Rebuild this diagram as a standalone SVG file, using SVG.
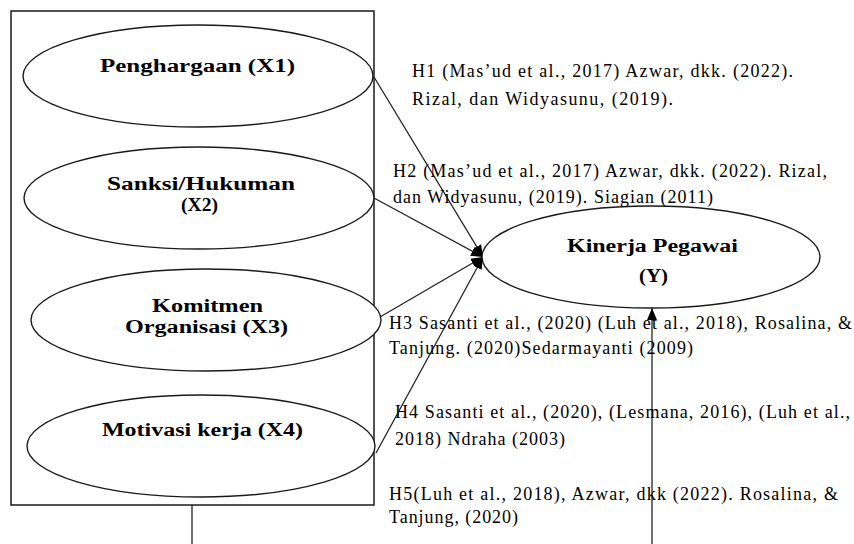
<svg xmlns="http://www.w3.org/2000/svg" width="854" height="544" viewBox="0 0 854 544">
<style>
.node ellipse{fill:#fff;stroke:#1a1a1a;stroke-width:1.4}
.lbl{font-family:"Liberation Serif","Times New Roman",serif;font-weight:bold;font-size:18px;fill:#000}
.hyp{font-family:"Liberation Serif","Times New Roman",serif;font-size:18px;fill:#000}
.conn line{stroke:#222;stroke-width:1.3}
</style>
<defs>
<marker id="ah" viewBox="0 0 12 10" refX="12" refY="5" markerWidth="12" markerHeight="10" markerUnits="userSpaceOnUse" orient="auto">
<path d="M0,0 L12,5 L0,10 z" fill="#000"/>
</marker>
</defs>
<rect width="854" height="544" fill="#fff"/>
<rect id="frame" x="11" y="11" width="363" height="494" fill="none" stroke="#1a1a1a" stroke-width="1.5"/>
<g class="conn" id="connectors">
<line x1="374" y1="77" x2="483" y2="257" marker-end="url(#ah)"/>
<line x1="374" y1="198" x2="483" y2="257" marker-end="url(#ah)"/>
<line x1="380" y1="317" x2="483" y2="257" marker-end="url(#ah)"/>
<line x1="376" y1="453" x2="483" y2="257" marker-end="url(#ah)"/>
<line x1="192" y1="505" x2="192" y2="544"/>
<line x1="652" y1="544" x2="652" y2="308" marker-end="url(#ah)"/>
</g>
<g id="x1" class="node">
<ellipse cx="198" cy="76" rx="175" ry="51"/>
<text class="lbl" x="100" y="72" textLength="195" lengthAdjust="spacingAndGlyphs">Penghargaan (X1)</text>
</g>
<g id="x2" class="node">
<ellipse cx="199" cy="198" rx="175" ry="51"/>
<text class="lbl" x="107" y="190" textLength="188" lengthAdjust="spacingAndGlyphs">Sanksi/Hukuman</text>
<text class="lbl" x="181" y="211" textLength="37" lengthAdjust="spacingAndGlyphs">(X2)</text>
</g>
<g id="x3" class="node">
<ellipse cx="206" cy="320" rx="175" ry="51"/>
<text class="lbl" x="152" y="312" textLength="111" lengthAdjust="spacingAndGlyphs">Komitmen</text>
<text class="lbl" x="125" y="333" textLength="163" lengthAdjust="spacingAndGlyphs">Organisasi (X3)</text>
</g>
<g id="x4" class="node">
<ellipse cx="201" cy="446" rx="174" ry="51"/>
<text class="lbl" x="102" y="436" textLength="201" lengthAdjust="spacingAndGlyphs">Motivasi kerja (X4)</text>
</g>
<g id="y" class="node">
<ellipse cx="651" cy="257" rx="169" ry="51"/>
<text class="lbl" x="567" y="252" textLength="171" lengthAdjust="spacingAndGlyphs">Kinerja Pegawai</text>
<text class="lbl" x="639" y="282" textLength="29" lengthAdjust="spacingAndGlyphs">(Y)</text>
</g>
<g id="hypotheses">
<text class="hyp" x="412" y="77" textLength="381">H1  (Mas’ud et al., 2017)  Azwar,  dkk. (2022).</text>
<text class="hyp" x="412" y="105" textLength="261">Rizal,   dan Widyasunu, (2019).</text>
<text class="hyp" x="393" y="177" textLength="434">H2 (Mas’ud et al., 2017)  Azwar,  dkk. (2022).  Rizal,</text>
<text class="hyp" x="393" y="203" textLength="320">dan Widyasunu, (2019).  Siagian (2011)</text>
<text class="hyp" x="389" y="329" textLength="463">H3 Sasanti et al., (2020)  (Luh et al., 2018),  Rosalina, &amp;</text>
<text class="hyp" x="389" y="354" textLength="304">Tanjung. (2020)Sedarmayanti  (2009)</text>
<text class="hyp" x="395" y="418" textLength="455">H4 Sasanti et al., (2020),  (Lesmana,  2016),  (Luh  et al.,</text>
<text class="hyp" x="395" y="445" textLength="170">2018)  Ndraha (2003)</text>
<text class="hyp" x="389" y="500" textLength="449">H5(Luh  et al., 2018),  Azwar,  dkk (2022).  Rosalina, &amp;</text>
<text class="hyp" x="389" y="523" textLength="129">Tanjung, (2020)</text>
</g>
</svg>
